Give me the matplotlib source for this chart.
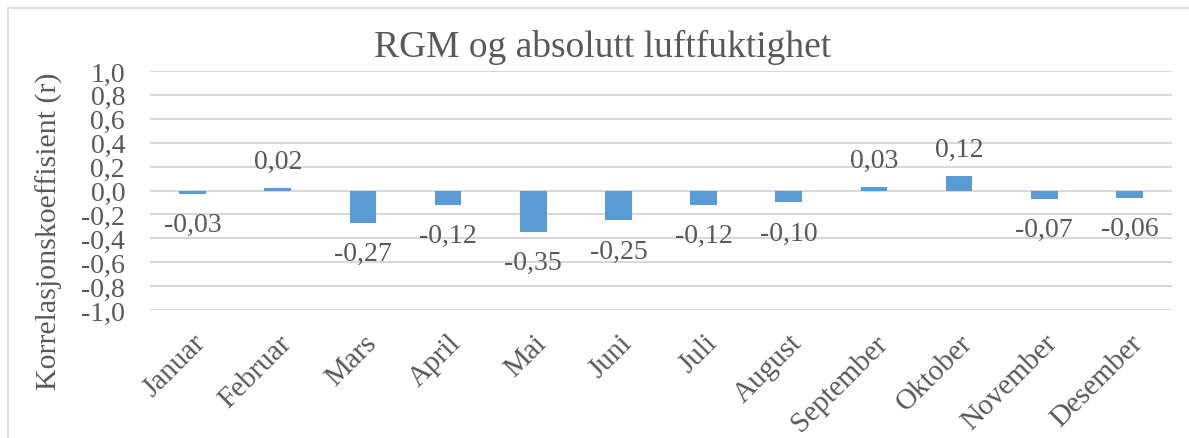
import matplotlib
matplotlib.use('Agg')
import matplotlib.pyplot as plt
from matplotlib.patches import Rectangle

months = ['Januar', 'Februar', 'Mars', 'April', 'Mai', 'Juni', 'Juli',
          'August', 'September', 'Oktober', 'November', 'Desember']
values = [-0.03, 0.02, -0.27, -0.12, -0.35, -0.25, -0.12,
          -0.10, 0.03, 0.12, -0.07, -0.06]
yticks = [-1.0, -0.8, -0.6, -0.4, -0.2, 0.0, 0.2, 0.4, 0.6, 0.8, 1.0]

text_color = '#595959'
grid_color = '#D9D9D9'
bar_color = '#5B9BD5'

plt.rcParams['font.family'] = ['Liberation Serif', 'DejaVu Serif']


def fmt(v, digits):
    return ('%.*f' % (digits, v)).replace('.', ',')


fig = plt.figure(figsize=(11.89, 4.39), dpi=100)
ax = fig.add_axes([150 / 1189, 1 - 311 / 439, (1172 - 150) / 1189, (311 - 72) / 439])

x = list(range(len(months)))
ax.bar(x, values, width=0.313, color=bar_color, zorder=3)

for xi, v in zip(x, values):
    if v >= 0:
        ax.annotate(fmt(v, 2), (xi, v), xytext=(0, 10), textcoords='offset points',
                    ha='center', va='bottom', fontsize=20, color=text_color)
    else:
        ax.annotate(fmt(v, 2), (xi, v), xytext=(0, -13), textcoords='offset points',
                    ha='center', va='top', fontsize=20, color=text_color)

ax.set_ylim(-1.0, 1.0)
ax.set_xlim(-0.5, len(months) - 0.5)
ax.set_yticks(yticks)
ax.set_yticklabels([fmt(t, 1) for t in yticks], fontsize=20, color=text_color)
ax.set_xticks(x)
ax.set_xticklabels(months, rotation=45, ha='right', rotation_mode='anchor',
                   fontsize=21, color=text_color)
ax.tick_params(axis='y', length=0, pad=18)
ax.tick_params(axis='x', length=0, pad=14)
ax.grid(axis='y', color=grid_color, linewidth=1.5, zorder=0)
for s in ax.spines.values():
    s.set_visible(False)

fig.text(49 / 1189, 1 - 231 / 439, 'Korrelasjonskoeffisient (r)', rotation=90,
         ha='center', va='center', fontsize=21.5, color=text_color)
fig.text(0.507, 1 - 57 / 439, 'RGM og absolutt luftfuktighet', ha='center',
         va='baseline', fontsize=27, color=text_color)

fig.patches.append(Rectangle((8 / 1189, -0.05), 1.1, 1 - 9 / 439 + 0.05,
                             transform=fig.transFigure, fill=False,
                             edgecolor=grid_color, linewidth=1.2))

fig.savefig('out.png', dpi=100)
